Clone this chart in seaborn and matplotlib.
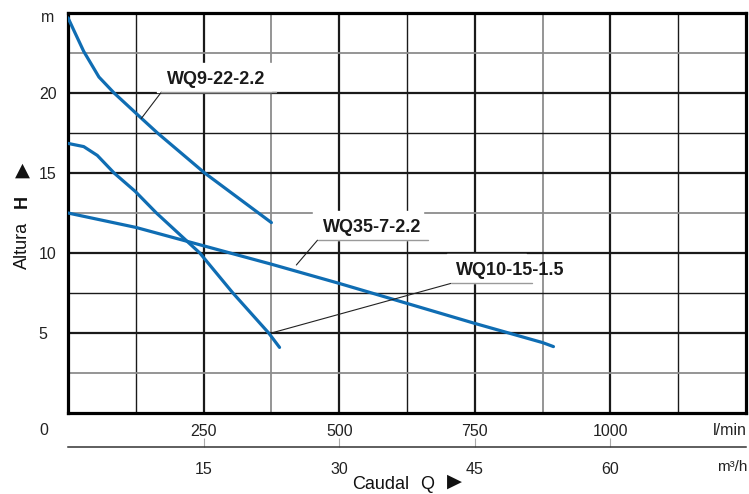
import numpy as np
import pandas as pd
import matplotlib
matplotlib.use("Agg")
import matplotlib.pyplot as plt
import seaborn as sns

# curves: flow Q (l/min) vs head H (m)
q_wq9 = [0, 11, 29, 57, 85, 136, 165, 252, 375]
h_wq9 = [24.7, 23.9, 22.6, 21.0, 20.0, 18.4, 17.5, 15.0, 11.9]

q_wq10 = [0, 29, 54, 85, 124, 163, 243, 304, 370, 390]
h_wq10 = [16.85, 16.65, 16.1, 15.0, 13.85, 12.5, 10.0, 7.5, 5.0, 4.1]

q_wq35 = [0, 125, 250, 375, 500, 625, 750, 875, 895]
h_wq35 = [12.5, 11.6, 10.45, 9.3, 8.1, 6.85, 5.6, 4.4, 4.15]

lmin_ticks = [250, 500, 750, 1000]
m3h_ticks = [15, 30, 45, 60]
h_ticks = [5, 10, 15, 20]

sns.set_style("white")
plt.rcParams['font.family'] = ['Liberation Sans', 'DejaVu Sans']

blue = '#0f6db3'
txt = '#222222'
fig = plt.figure(figsize=(7.49, 4.94), dpi=100)
ax = fig.add_axes([68/749, 81/494, 678/749, 400/494])

# grid
for x in np.arange(125, 1250, 125):
    if x % 250 == 0:
        ax.axvline(x, color='#1a1a1a', lw=1.6, zorder=1)
    elif x in (375, 875):
        ax.axvline(x, color='#8c8c8c', lw=1.3, zorder=1)
    else:
        ax.axvline(x, color='#1a1a1a', lw=1.0, zorder=1)
for y in np.arange(2.5, 25, 2.5):
    if y % 5 == 0:
        ax.axhline(y, color='#1a1a1a', lw=1.6, zorder=1)
    elif y in (2.5, 12.5, 22.5):
        ax.axhline(y, color='#8c8c8c', lw=1.3, zorder=1)
    else:
        ax.axhline(y, color='#1a1a1a', lw=1.0, zorder=1)

for q, h in [(q_wq9, h_wq9), (q_wq10, h_wq10), (q_wq35, h_wq35)]:
    df = pd.DataFrame({'Q': q, 'H': h})
    sns.lineplot(data=df, x='Q', y='H', ax=ax, color=blue, lw=2.3,
                 sort=False, zorder=3, solid_joinstyle='round')

ax.set_xlim(0, 1250)
ax.set_ylim(0, 25)
ax.set_xlabel('')
ax.set_ylabel('')
for s in ax.spines.values():
    s.set_visible(True)
    s.set_color('black')
    s.set_linewidth(2.3)

ax.set_xticks(lmin_ticks)
ax.set_xticklabels([str(t) for t in lmin_ticks], fontsize=11.5, color=txt)
ax.tick_params(axis='x', length=0, pad=8)
ax.set_yticks(h_ticks)
ax.set_yticklabels([str(t) for t in h_ticks], fontsize=11.5, color=txt)
ax.tick_params(axis='y', length=0, pad=21)
for lab in ax.get_yticklabels():
    lab.set_horizontalalignment('left')

# m3/h axis below
sec = ax.secondary_xaxis(-34/400, functions=(lambda q: q * 0.06, lambda m: m / 0.06))
sec.set_xticks(m3h_ticks)
sec.set_xticklabels([str(t) for t in m3h_ticks], fontsize=11.5, color=txt)
sec.tick_params(axis='x', direction='in', length=6.5, width=0.8, color='#aaaaaa', pad=11)
sec.spines['bottom'].set_linewidth(1.1)
sec.spines['bottom'].set_color('#333333')

def px(x, y):
    return x / 749, 1 - y / 494

fig.text(*px(48, 18), 'm', fontsize=11.5, ha='center', va='center', color=txt)
fig.text(*px(39, 430), '0', fontsize=11.5, ha='left', va='center', color=txt)
fig.text(*px(747, 430), 'l/min', fontsize=11.5, ha='right', va='center', color=txt)
fig.text(*px(747, 467), 'm³/h', fontsize=11, ha='right', va='center', color=txt)

# axis titles
fig.text(*px(381, 484), 'Caudal', fontsize=13, ha='center', va='center', color='#111111')
fig.text(*px(427, 484), 'Q', fontsize=13, ha='center', va='center', color='#111111')
fig.text(*px(454, 481), '▶', fontsize=14, family='DejaVu Sans', ha='center', va='center',
         color='#111111')
fig.text(*px(22, 245), 'Altura', fontsize=13, ha='center', va='center', rotation=90, color='#111111')
fig.text(*px(22, 202), 'H', fontsize=13, fontweight='bold', ha='center', va='center', rotation=90, color='#111111')
fig.text(*px(22, 170), '▲', fontsize=14, family='DejaVu Sans', ha='center', va='center', color='#111111')

# model labels with leader lines
labels = [
    ('WQ9-22-2.2', (135, 18.4), (172, 20.05), 384),
    ('WQ35-7-2.2', (421, 9.25), (460, 10.8), 664),
    ('WQ10-15-1.5', (375, 5.0), (706, 8.1), 855),
]
for name, p0, p1, x_end in labels:
    ax.fill_between([p1[0] - 8, x_end - 10], p1[1], p1[1] + 1.85, color='white', zorder=2)
    ax.plot([p0[0], p1[0]], [p0[1], p1[1]], color='#222222', lw=0.8, zorder=4)
    ax.plot([p1[0], x_end], [p1[1], p1[1]], color='#9a9a9a', lw=1.0, zorder=4)
    ax.text(p1[0] + 10, p1[1] + 0.25, name, fontsize=13, fontweight='bold',
            ha='left', va='bottom', color='#1a1a1a', zorder=5)

fig.savefig('out.png', dpi=100)
